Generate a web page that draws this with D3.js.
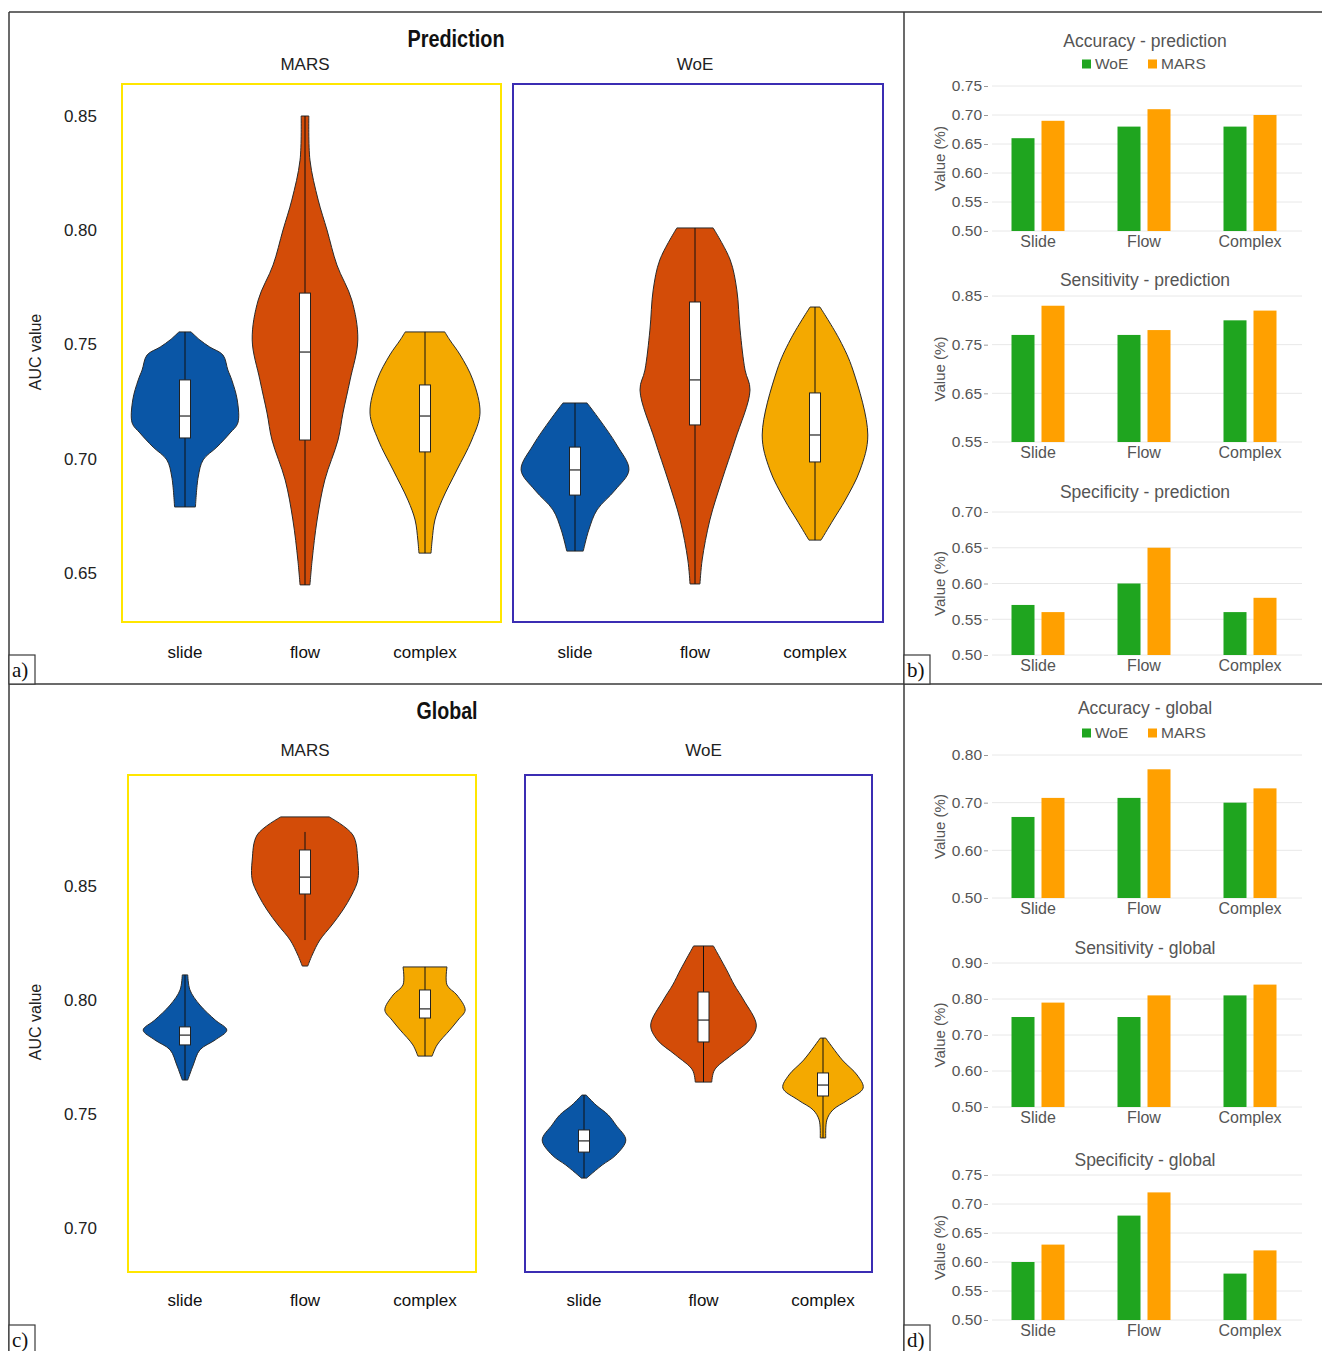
<!DOCTYPE html>
<html><head><meta charset="utf-8">
<script src="https://cdn.jsdelivr.net/npm/d3@7"></script>
<style>body{margin:0;background:#fff}svg{display:block}</style>
</head><body>
<svg id="c" width="1322" height="1351"></svg>
<script>
// ---------- DATA ----------
const violinGroups = ["MARS", "WoE"];
const violinCategories = ["slide", "flow", "complex"];
const aucTicksPrediction = [0.65, 0.70, 0.75, 0.80, 0.85];
const aucTicksGlobal = [0.70, 0.75, 0.80, 0.85];

// box stats: [min, q1, median, q3, max]; order MARS slide/flow/complex, WoE slide/flow/complex
const predBoxStats = [
  [0.6789, 0.7091, 0.7187, 0.7345, 0.7555],
  [0.6448, 0.7082, 0.7467, 0.7725, 0.8500],
  [0.6587, 0.7030, 0.7187, 0.7323, 0.7555],
  [0.6596, 0.6841, 0.6951, 0.7051, 0.7244],
  [0.6452, 0.7148, 0.7345, 0.7686, 0.8010],
  [0.6644, 0.6986, 0.7104, 0.7288, 0.7664]
];
// violin density profiles: [value, relative density]
const predProfiles = [
  [[0.7555,0.11],[0.7520,0.27],[0.7489,0.45],[0.7454,0.69],[0.7388,0.78],[0.7345,0.85],[0.7257,0.95],[0.7156,0.96],[0.7113,0.82],[0.7051,0.58],[0.6995,0.33],[0.6920,0.24],[0.6789,0.19]],
  [[0.8500,0.07],[0.8307,0.09],[0.8132,0.24],[0.8001,0.40],[0.7848,0.58],[0.7695,0.85],[0.7520,0.96],[0.7345,0.82],[0.7200,0.69],[0.7082,0.60],[0.6907,0.36],[0.6732,0.22],[0.6557,0.13],[0.6448,0.09]],
  [[0.7555,0.36],[0.7520,0.45],[0.7454,0.64],[0.7345,0.87],[0.7200,1.00],[0.7082,0.85],[0.6951,0.58],[0.6819,0.31],[0.6732,0.18],[0.6644,0.13],[0.6587,0.11]],
  [[0.7244,0.22],[0.7170,0.45],[0.7060,0.76],[0.6951,0.98],[0.6863,0.73],[0.6776,0.40],[0.6688,0.25],[0.6596,0.15]],
  [[0.8010,0.33],[0.7870,0.64],[0.7739,0.76],[0.7563,0.82],[0.7388,0.91],[0.7301,1.00],[0.7082,0.73],[0.6907,0.49],[0.6732,0.27],[0.6557,0.13],[0.6452,0.09]],
  [[0.7664,0.09],[0.7520,0.45],[0.7388,0.69],[0.7104,0.96],[0.6951,0.82],[0.6819,0.55],[0.6732,0.33],[0.6644,0.11]]
];
const globalBoxStats = [
  [0.7649, 0.7803, 0.7846, 0.7882, 0.8110],
  [0.8263, 0.8465, 0.8539, 0.8658, 0.8737],
  [0.7754, 0.7921, 0.7961, 0.8044, 0.8145],
  [0.7219, 0.7333, 0.7382, 0.7430, 0.7583],
  [0.7640, 0.7816, 0.7912, 0.8035, 0.8237],
  [0.7395, 0.7579, 0.7627, 0.7680, 0.7833]
];
const globalProfiles = [
  [[0.8110,0.05],[0.8044,0.09],[0.7978,0.27],[0.7912,0.55],[0.7868,0.76],[0.7825,0.55],[0.7781,0.27],[0.7715,0.15],[0.7649,0.05]],
  [[0.8803,0.44],[0.8724,0.87],[0.8614,0.96],[0.8526,0.96],[0.8461,0.85],[0.8395,0.69],[0.8329,0.49],[0.8263,0.27],[0.8197,0.13],[0.8149,0.05]],
  [[0.8145,0.40],[0.8066,0.40],[0.8022,0.58],[0.7956,0.73],[0.7912,0.60],[0.7868,0.45],[0.7803,0.22],[0.7754,0.13]],
  [[0.7583,0.04],[0.7539,0.22],[0.7496,0.44],[0.7452,0.58],[0.7386,0.76],[0.7320,0.58],[0.7276,0.33],[0.7232,0.11],[0.7219,0.05]],
  [[0.8237,0.18],[0.8132,0.42],[0.8066,0.56],[0.8000,0.73],[0.7890,0.96],[0.7825,0.84],[0.7759,0.51],[0.7693,0.20],[0.7640,0.15]],
  [[0.7833,0.05],[0.7737,0.35],[0.7671,0.62],[0.7614,0.73],[0.7561,0.45],[0.7518,0.18],[0.7474,0.07],[0.7395,0.05]]
];

const barCategories = ["Slide", "Flow", "Complex"];
const barSeries = ["WoE", "MARS"];
const accuracyPredWoE = [0.66, 0.68, 0.68];
const accuracyPredMARS = [0.69, 0.71, 0.70];
const sensitivityPredWoE = [0.77, 0.77, 0.80];
const sensitivityPredMARS = [0.83, 0.78, 0.82];
const specificityPredWoE = [0.57, 0.60, 0.56];
const specificityPredMARS = [0.56, 0.65, 0.58];
const accuracyGlobalWoE = [0.67, 0.71, 0.70];
const accuracyGlobalMARS = [0.71, 0.77, 0.73];
const sensitivityGlobalWoE = [0.75, 0.75, 0.81];
const sensitivityGlobalMARS = [0.79, 0.81, 0.84];
const specificityGlobalWoE = [0.60, 0.68, 0.58];
const specificityGlobalMARS = [0.63, 0.72, 0.62];
const ticksAccPred = [0.50, 0.55, 0.60, 0.65, 0.70, 0.75];
const ticksSensPred = [0.55, 0.65, 0.75, 0.85];
const ticksSpecPred = [0.50, 0.55, 0.60, 0.65, 0.70];
const ticksAccGlobal = [0.50, 0.60, 0.70, 0.80];
const ticksSensGlobal = [0.50, 0.60, 0.70, 0.80, 0.90];
const ticksSpecGlobal = [0.50, 0.55, 0.60, 0.65, 0.70, 0.75];

// ---------- STYLE ----------
const SANS = "'Liberation Sans', Arial, sans-serif";
const catColor = d3.scaleOrdinal().domain(violinCategories).range(["#0a56a6", "#d34c08", "#f4a900"]);
const groupBoxColor = d3.scaleOrdinal().domain(violinGroups).range(["#ffe600", "#3b2db3"]);
const seriesColor = d3.scaleOrdinal().domain(barSeries).range(["#1fa51f", "#ffa000"]);
const fmt = d3.format(".2f");

const svg = d3.select("#c");
svg.append("rect").attr("width", 1322).attr("height", 1351).attr("fill", "#fff");

// ---------- VIOLIN PANELS ----------
function drawViolinPanel(cfg) {
  const g = svg.append("g");
  const y = d3.scaleLinear().domain(cfg.domain).range(cfg.range);
  const w = d3.scaleLinear().domain([0, 1]).range([0, 55]);

  g.append("text").attr("x", cfg.titleX).attr("y", cfg.titleY).attr("dy", "0.35em")
    .attr("text-anchor", "middle").attr("font-family", SANS)
    .attr("font-weight", "bold").attr("font-size", 23).attr("fill", "#111")
    .attr("textLength", cfg.titleLen).attr("lengthAdjust", "spacingAndGlyphs").text(cfg.title);

  const axis = d3.axisLeft(y).tickValues(cfg.ticks).tickFormat(fmt).tickSize(0).tickPadding(0);
  const ax = g.append("g").attr("transform", "translate(97,0)").call(axis);
  ax.select(".domain").remove();
  ax.selectAll("text").attr("font-family", SANS).attr("font-size", 17).attr("fill", "#222");

  g.append("text").attr("transform", `translate(35,${cfg.axisLabelY}) rotate(-90)`)
    .attr("dy", "0.35em").attr("text-anchor", "middle").attr("font-family", SANS)
    .attr("font-size", 16).attr("fill", "#222").text("AUC value");

  violinGroups.forEach((grp, gi) => {
    const b = cfg.boxes[gi];
    g.append("rect").attr("x", b[0]).attr("y", b[1]).attr("width", b[2] - b[0]).attr("height", b[3] - b[1])
      .attr("fill", "none").attr("stroke", groupBoxColor(grp)).attr("stroke-width", 2);

    const x = d3.scalePoint().domain(violinCategories).range(cfg.xRanges[gi]);
    g.append("text").attr("x", x("flow")).attr("y", cfg.groupLabelY).attr("dy", "0.35em")
      .attr("text-anchor", "middle").attr("font-family", SANS).attr("font-size", 17).attr("fill", "#222").text(grp);

    violinCategories.forEach((cat, ci) => {
      const idx = gi * 3 + ci;
      const cx = x(cat);
      const prof = cfg.profiles[idx];
      const area = d3.area()
        .y(d => y(d[0]))
        .x0(d => cx - w(d[1]))
        .x1(d => cx + w(d[1]))
        .curve(d3.curveCatmullRom.alpha(0.5));
      g.append("path").attr("d", area(prof)).attr("fill", catColor(cat))
        .attr("stroke", "#2a2a2a").attr("stroke-width", 1);
      const s = cfg.stats[idx];
      g.append("line").attr("x1", cx).attr("x2", cx).attr("y1", y(s[4])).attr("y2", y(s[0]))
        .attr("stroke", "#111").attr("stroke-width", 1);
      g.append("rect").attr("x", cx - 5.5).attr("width", 11).attr("y", y(s[3])).attr("height", y(s[1]) - y(s[3]))
        .attr("fill", "#fff").attr("stroke", "#222").attr("stroke-width", 1);
      g.append("line").attr("x1", cx - 5.5).attr("x2", cx + 5.5).attr("y1", y(s[2])).attr("y2", y(s[2]))
        .attr("stroke", "#222").attr("stroke-width", 1.2);
      g.append("text").attr("x", cx).attr("y", cfg.catLabelY).attr("dy", "0.35em")
        .attr("text-anchor", "middle").attr("font-family", SANS).attr("font-size", 17).attr("fill", "#111").text(cat);
    });
  });
}

drawViolinPanel({
  title: "Prediction", titleX: 456, titleY: 39, titleLen: 97, groupLabelY: 64,
  domain: [0.65, 0.85], range: [573, 116], ticks: aucTicksPrediction, axisLabelY: 352,
  boxes: [[122, 84, 501, 622], [513, 84, 883, 622]],
  xRanges: [[185, 425], [575, 815]],
  profiles: predProfiles, stats: predBoxStats, catLabelY: 652
});
drawViolinPanel({
  title: "Global", titleX: 447, titleY: 711, titleLen: 61, groupLabelY: 750,
  domain: [0.70, 0.85], range: [1228, 886], ticks: aucTicksGlobal, axisLabelY: 1022,
  boxes: [[128, 775, 476, 1272], [525, 775, 872, 1272]],
  xRanges: [[185, 425], [584, 823]],
  profiles: globalProfiles, stats: globalBoxStats, catLabelY: 1300
});

// ---------- BAR CHARTS ----------
function drawBar(cfg) {
  const g = svg.append("g");
  const y = d3.scaleLinear().domain(cfg.domain).range([cfg.bottom, cfg.top]);
  const x0 = d3.scaleBand().domain(barCategories).range([985, 1303]);
  const x1 = d3.scaleBand().domain(barSeries).range([-26.5, 26.5]).paddingInner(0.233);

  g.selectAll(".grid").data(cfg.ticks).enter().append("line")
    .attr("x1", 992).attr("x2", 1302).attr("y1", d => y(d)).attr("y2", d => y(d))
    .attr("stroke", "#e8e8e8").attr("stroke-width", 1);

  const axis = d3.axisLeft(y).tickValues(cfg.ticks).tickFormat(fmt).tickSize(4).tickPadding(2);
  const ax = g.append("g").attr("transform", "translate(988,0)").call(axis);
  ax.select(".domain").remove();
  ax.selectAll("line").attr("stroke", "#999");
  ax.selectAll("text").attr("font-family", SANS).attr("font-size", 15.5).attr("fill", "#555");

  g.append("text").attr("transform", `translate(940,${(cfg.top + cfg.bottom) / 2}) rotate(-90)`)
    .attr("dy", "0.35em").attr("text-anchor", "middle").attr("font-family", SANS)
    .attr("font-size", 15).attr("fill", "#555").text("Value (%)");

  g.append("text").attr("x", 1145).attr("y", cfg.titleY).attr("dy", "0.35em").attr("text-anchor", "middle")
    .attr("font-family", SANS).attr("font-size", 17.5).attr("fill", "#555").text(cfg.title);

  const vals = { WoE: cfg.woe, MARS: cfg.mars };
  barCategories.forEach((cat, i) => {
    const cx = x0(cat) + x0.bandwidth() / 2;
    barSeries.forEach(s => {
      g.append("rect").attr("x", cx + x1(s)).attr("width", x1.bandwidth())
        .attr("y", y(vals[s][i])).attr("height", y(cfg.domain[0]) - y(vals[s][i]))
        .attr("fill", seriesColor(s));
    });
    g.append("text").attr("x", cx).attr("y", cfg.bottom + 10).attr("dy", "0.35em").attr("text-anchor", "middle")
      .attr("font-family", SANS).attr("font-size", 16).attr("fill", "#555").text(cat);
  });

  if (cfg.legendY) {
    const lx = [1082, 1148];
    barSeries.forEach((s, i) => {
      g.append("rect").attr("x", lx[i]).attr("y", cfg.legendY - 4.5).attr("width", 9).attr("height", 9)
        .attr("fill", seriesColor(s));
      g.append("text").attr("x", lx[i] + 13).attr("y", cfg.legendY).attr("dy", "0.35em")
        .attr("font-family", SANS).attr("font-size", 15.5).attr("fill", "#555").text(s);
    });
  }
}

drawBar({ title: "Accuracy - prediction", titleY: 41, legendY: 64, domain: [0.50, 0.75], top: 86, bottom: 231, ticks: ticksAccPred, woe: accuracyPredWoE, mars: accuracyPredMARS });
drawBar({ title: "Sensitivity - prediction", titleY: 280, domain: [0.55, 0.85], top: 296, bottom: 442, ticks: ticksSensPred, woe: sensitivityPredWoE, mars: sensitivityPredMARS });
drawBar({ title: "Specificity - prediction", titleY: 492, domain: [0.50, 0.70], top: 512, bottom: 655, ticks: ticksSpecPred, woe: specificityPredWoE, mars: specificityPredMARS });
drawBar({ title: "Accuracy - global", titleY: 708, legendY: 733, domain: [0.50, 0.80], top: 755, bottom: 898, ticks: ticksAccGlobal, woe: accuracyGlobalWoE, mars: accuracyGlobalMARS });
drawBar({ title: "Sensitivity - global", titleY: 948, domain: [0.50, 0.90], top: 963, bottom: 1107, ticks: ticksSensGlobal, woe: sensitivityGlobalWoE, mars: sensitivityGlobalMARS });
drawBar({ title: "Specificity - global", titleY: 1160, domain: [0.50, 0.75], top: 1175, bottom: 1320, ticks: ticksSpecGlobal, woe: specificityGlobalWoE, mars: specificityGlobalMARS });

// ---------- FRAME ----------
const frame = svg.append("g").attr("stroke", "#3a3a3a").attr("stroke-width", 1.5).attr("fill", "none");
frame.append("line").attr("x1", 9).attr("x2", 1322).attr("y1", 12).attr("y2", 12);
frame.append("line").attr("x1", 9).attr("x2", 9).attr("y1", 12).attr("y2", 1351);
frame.append("line").attr("x1", 9).attr("x2", 1322).attr("y1", 684).attr("y2", 684);
frame.append("line").attr("x1", 904).attr("x2", 904).attr("y1", 12).attr("y2", 1351);

const panelLabels = [["a)", 9, 655], ["b)", 904, 655], ["c)", 9, 1325], ["d)", 904, 1325]];
panelLabels.forEach(([t, x, yy]) => {
  svg.append("rect").attr("x", x).attr("y", yy).attr("width", 26).attr("height", 29)
    .attr("fill", "#fff").attr("stroke", "#3a3a3a").attr("stroke-width", 1.2);
  svg.append("text").attr("x", x + 3).attr("y", yy + 22).attr("font-family", "'Liberation Serif', 'Times New Roman', serif")
    .attr("font-size", 21).attr("fill", "#111").text(t);
});
</script>
</body></html>
